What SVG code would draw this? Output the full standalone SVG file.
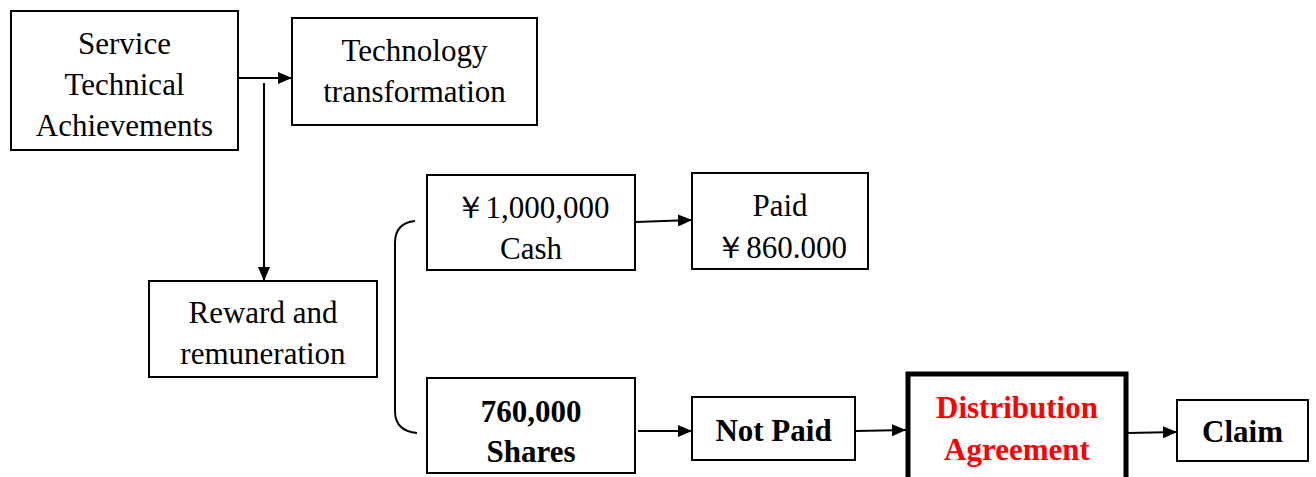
<svg xmlns="http://www.w3.org/2000/svg" width="1316" height="477" viewBox="0 0 1316 477">
  <style>
    .box { fill: #fff; stroke: #000; stroke-width: 2; }
    .thick { fill: #fff; stroke: #000; stroke-width: 5; }
    .t { font-family: "Liberation Serif", "Times New Roman", serif; font-size: 31px; fill: #000; text-anchor: middle; }
    .b { font-weight: bold; }
    .red { fill: #ff0000; }
    .line { fill: none; stroke: #000; stroke-width: 2; }
  </style>
  <defs>
    <marker id="arrow" viewBox="0 0 14 12" refX="14" refY="6" markerWidth="14" markerHeight="12" markerUnits="userSpaceOnUse" orient="auto">
      <path d="M0,0 L14,6 L0,12 z" fill="#000"/>
    </marker>
  </defs>
  <rect width="1316" height="477" fill="#fff"/>

  <g id="connectors">
    <line class="line" x1="238" y1="78" x2="292" y2="78" marker-end="url(#arrow)"/>
    <line class="line" x1="264" y1="83" x2="264" y2="281" marker-end="url(#arrow)"/>
    <path class="line" d="M415,221 Q395,223 395,243 L395,411 Q395,431 417,433"/>
    <line class="line" x1="636" y1="222" x2="692" y2="220" marker-end="url(#arrow)"/>
    <line class="line" x1="638" y1="431" x2="692" y2="431" marker-end="url(#arrow)"/>
    <line class="line" x1="856" y1="431" x2="906" y2="430" marker-end="url(#arrow)"/>
    <line class="line" x1="1128" y1="433" x2="1177" y2="432" marker-end="url(#arrow)"/>
  </g>

  <g id="service">
    <rect class="box" x="11" y="11" width="227" height="139"/>
    <text class="t" x="124.5" y="54">Service</text>
    <text class="t" x="124.5" y="95">Technical</text>
    <text class="t" x="124.5" y="136">Achievements</text>
  </g>

  <g id="technology">
    <rect class="box" x="292" y="18" width="245" height="107"/>
    <text class="t" x="414.5" y="61">Technology</text>
    <text class="t" x="414.5" y="102">transformation</text>
  </g>

  <g id="reward">
    <rect class="box" x="149" y="281" width="228" height="96"/>
    <text class="t" x="263" y="323">Reward and</text>
    <text class="t" x="263" y="364">remuneration</text>
  </g>

  <g id="cash">
    <rect class="box" x="427" y="175" width="208" height="95"/>
    <text class="t" x="532" y="218">￥1,000,000</text>
    <text class="t" x="531" y="259">Cash</text>
  </g>

  <g id="paid">
    <rect class="box" x="692" y="173" width="176" height="96"/>
    <text class="t" x="780" y="216">Paid</text>
    <text class="t" x="781" y="258">￥860.000</text>
  </g>

  <g id="shares">
    <rect class="box" x="427" y="378" width="208" height="95"/>
    <text class="t b" x="531" y="422">760,000</text>
    <text class="t b" x="531" y="462">Shares</text>
  </g>

  <g id="not-paid">
    <rect class="box" x="692" y="397" width="163" height="63"/>
    <text class="t b" x="773.5" y="441">Not Paid</text>
  </g>

  <g id="distribution">
    <rect class="thick" x="908" y="374" width="218" height="110"/>
    <text class="t b red" x="1017" y="418">Distribution</text>
    <text class="t b red" x="1017" y="460">Agreement</text>
  </g>

  <g id="claim">
    <rect class="box" x="1177" y="400" width="131" height="61"/>
    <text class="t b" x="1242.5" y="442">Claim</text>
  </g>
</svg>
